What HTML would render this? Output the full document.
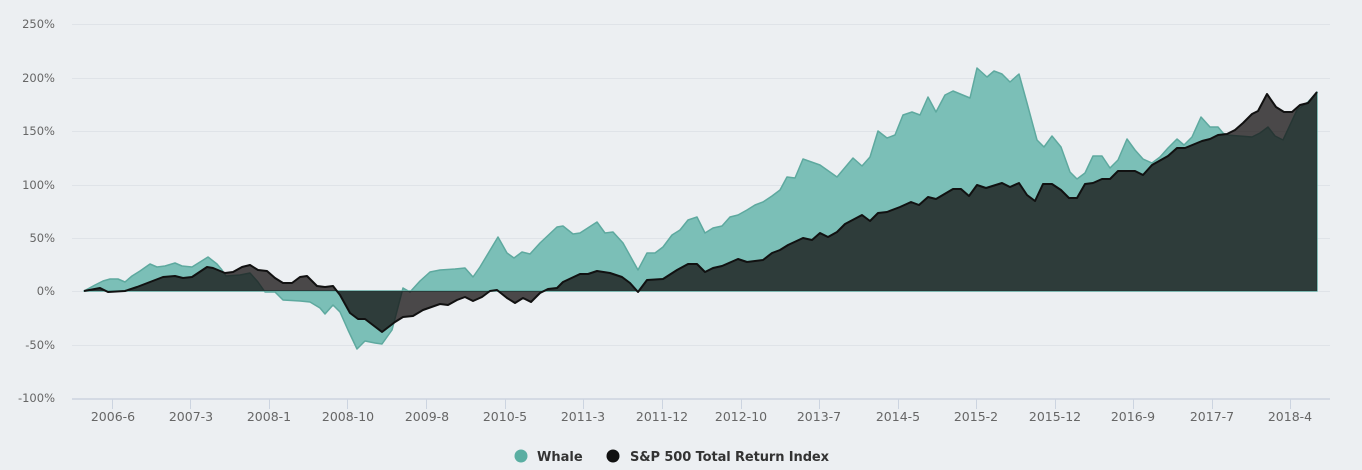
<!DOCTYPE html>
<html><head><meta charset="utf-8"><style>
html,body{margin:0;padding:0;background:#eceff2;}
svg{display:block;font-family:"DejaVu Sans","Liberation Sans",sans-serif;}
</style></head><body>
<svg width="1362" height="470" viewBox="0 0 1362 470" xmlns="http://www.w3.org/2000/svg">
<rect width="1362" height="470" fill="#eceff2"/>
<g stroke="#dfe3e8" stroke-width="1">
<line x1="72" x2="1330" y1="24.5" y2="24.5"/>
<line x1="72" x2="1330" y1="78.5" y2="78.5"/>
<line x1="72" x2="1330" y1="131.5" y2="131.5"/>
<line x1="72" x2="1330" y1="185.5" y2="185.5"/>
<line x1="72" x2="1330" y1="238.5" y2="238.5"/>
<line x1="72" x2="1330" y1="291.5" y2="291.5"/>
<line x1="72" x2="1330" y1="345.5" y2="345.5"/>
</g>
<g fill="#666" font-size="11.5" text-anchor="end">
<text x="55" y="28">250%</text>
<text x="55" y="82">200%</text>
<text x="55" y="135">150%</text>
<text x="55" y="189">100%</text>
<text x="55" y="242">50%</text>
<text x="55" y="295">0%</text>
<text x="55" y="349">-50%</text>
<text x="55" y="402">-100%</text>
</g>
<polygon fill="#7bbfb7" stroke="#5ea99f" stroke-width="1.5" stroke-linejoin="round" points="84,291 95,285 103,281 110,279 118,279 125,282 132,276 140,271 150,264 157,267 165,266 175,263 182,266 192,267 200,262 208,257 217,264 222,270 226,276 240,275 250,273 258,282 265,292 275,292 283,300 300,301 310,302 320,308 325,314 333,305 340,312 348,330 357,349 365,341 375,343 382,344 392,330 403,288 410,292 420,281 430,272 440,270 455,269 465,268 473,277 480,267 498,237 507,253 514,258 522,252 530,254 540,243 557,227 563,226 573,234 580,233 597,222 605,233 613,232 623,243 638,270 647,253 655,253 663,247 672,235 680,230 688,220 697,217 705,233 713,228 722,226 730,217 738,215 747,210 755,205 763,202 772,196 780,190 787,177 795,178 803,159 820,165 837,177 853,158 862,166 870,157 878,131 887,138 895,135 903,115 912,112 920,115 928,97 936,112 945,95 953,91 970,98 977,68 987,77 994,71 1002,74 1010,82 1019,74 1027,103 1037,140 1044,147 1052,136 1061,147 1070,172 1077,179 1085,173 1093,156 1102,156 1110,168 1118,160 1127,139 1135,150 1143,159 1152,163 1160,157 1168,148 1177,139 1184,145 1192,137 1201,117 1210,127 1218,127 1223,133 1227,135 1252,137 1260,133 1268,127 1275,136 1283,140 1297,110 1308,102 1317,92 1317,291"/>
<polygon fill="rgba(20,16,16,0.75)" stroke="none" points="84,291 100,288 108,292 125,291 137,287 150,282 163,277 175,276 183,278 192,277 207,267 213,268 225,273 233,272 242,267 250,265 258,270 267,271 275,278 283,283 292,283 300,277 307,276 317,286 325,287 333,286 340,295 350,313 358,319 365,319 382,332 395,322 403,317 413,316 423,310 440,304 448,305 457,300 465,297 473,301 482,297 490,291 497,290 507,298 515,303 523,298 531,302 540,293 548,289 557,288 563,282 580,274 588,274 597,271 610,273 622,277 630,283 638,292 647,280 663,279 677,270 688,264 697,264 705,272 713,268 722,266 738,259 747,262 763,260 772,253 780,250 788,245 803,238 812,240 820,233 828,237 837,232 845,224 862,215 870,221 878,213 887,212 900,207 911,202 919,205 928,197 936,199 953,189 961,189 969,196 977,185 986,188 1002,183 1010,187 1019,183 1027,195 1035,201 1043,184 1052,184 1061,190 1069,198 1077,198 1085,184 1093,183 1102,179 1110,179 1118,171 1135,171 1143,175 1152,165 1168,156 1177,148 1185,148 1202,141 1210,139 1218,135 1227,134 1235,130 1243,123 1252,114 1258,111 1267,94 1276,107 1284,112 1292,112 1300,105 1308,103 1317,92 1317,291"/>
<polyline fill="none" stroke="#111" stroke-width="2" stroke-linejoin="round" points="84,291 100,288 108,292 125,291 137,287 150,282 163,277 175,276 183,278 192,277 207,267 213,268 225,273 233,272 242,267 250,265 258,270 267,271 275,278 283,283 292,283 300,277 307,276 317,286 325,287 333,286 340,295 350,313 358,319 365,319 382,332 395,322 403,317 413,316 423,310 440,304 448,305 457,300 465,297 473,301 482,297 490,291 497,290 507,298 515,303 523,298 531,302 540,293 548,289 557,288 563,282 580,274 588,274 597,271 610,273 622,277 630,283 638,292 647,280 663,279 677,270 688,264 697,264 705,272 713,268 722,266 738,259 747,262 763,260 772,253 780,250 788,245 803,238 812,240 820,233 828,237 837,232 845,224 862,215 870,221 878,213 887,212 900,207 911,202 919,205 928,197 936,199 953,189 961,189 969,196 977,185 986,188 1002,183 1010,187 1019,183 1027,195 1035,201 1043,184 1052,184 1061,190 1069,198 1077,198 1085,184 1093,183 1102,179 1110,179 1118,171 1135,171 1143,175 1152,165 1168,156 1177,148 1185,148 1202,141 1210,139 1218,135 1227,134 1235,130 1243,123 1252,114 1258,111 1267,94 1276,107 1284,112 1292,112 1300,105 1308,103 1317,92"/>
<line x1="72" x2="1330" y1="399" y2="399" stroke="#ccd4e0" stroke-width="1.5"/>
<g stroke="#ccd4e0" stroke-width="1">
<line x1="112.5" x2="112.5" y1="399" y2="409"/><line x1="190.5" x2="190.5" y1="399" y2="409"/>
<line x1="269.5" x2="269.5" y1="399" y2="409"/><line x1="347.5" x2="347.5" y1="399" y2="409"/>
<line x1="426.5" x2="426.5" y1="399" y2="409"/><line x1="505.5" x2="505.5" y1="399" y2="409"/>
<line x1="583.5" x2="583.5" y1="399" y2="409"/><line x1="662.5" x2="662.5" y1="399" y2="409"/>
<line x1="741.5" x2="741.5" y1="399" y2="409"/><line x1="819.5" x2="819.5" y1="399" y2="409"/>
<line x1="898.5" x2="898.5" y1="399" y2="409"/><line x1="976.5" x2="976.5" y1="399" y2="409"/>
<line x1="1055.5" x2="1055.5" y1="399" y2="409"/><line x1="1133.5" x2="1133.5" y1="399" y2="409"/>
<line x1="1212.5" x2="1212.5" y1="399" y2="409"/><line x1="1290.5" x2="1290.5" y1="399" y2="409"/>
</g>
<g fill="#666" font-size="12.5" text-anchor="middle">
<text x="113" y="421">2006-6</text><text x="191" y="421">2007-3</text>
<text x="269" y="421">2008-1</text><text x="348" y="421">2008-10</text>
<text x="427" y="421">2009-8</text><text x="505" y="421">2010-5</text>
<text x="583" y="421">2011-3</text><text x="662" y="421">2011-12</text>
<text x="741" y="421">2012-10</text><text x="819" y="421">2013-7</text>
<text x="898" y="421">2014-5</text><text x="976" y="421">2015-2</text>
<text x="1055" y="421">2015-12</text><text x="1133" y="421">2016-9</text>
<text x="1212" y="421">2017-7</text><text x="1290" y="421">2018-4</text>
</g>
<circle cx="521" cy="456" r="6.5" fill="#5aaea2"/>
<text x="537" y="461" font-size="13" font-weight="bold" fill="#333">Whale</text>
<circle cx="613" cy="456" r="6.5" fill="#111"/>
<text x="630" y="461" font-size="13" font-weight="bold" fill="#333" textLength="199">S&amp;P 500 Total Return Index</text>
</svg>
</body></html>
